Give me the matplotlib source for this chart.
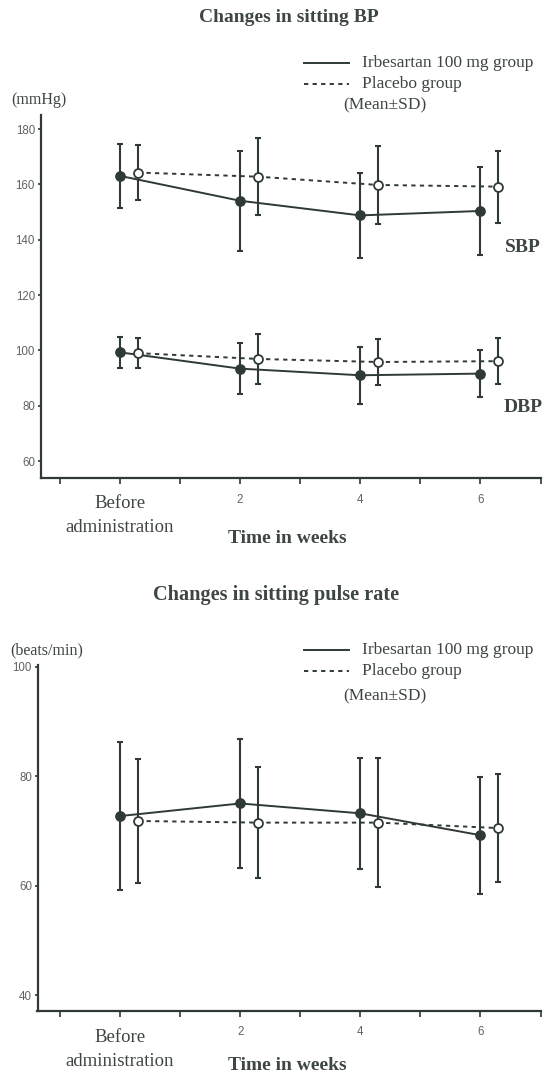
import matplotlib
matplotlib.use("Agg")
import matplotlib.pyplot as plt
import numpy as np

# ---------------- data ----------------
weeks = [0, 2, 4, 6]
placebo_offset = 0.3
x_ticks = [-1, 0, 1, 2, 3, 4, 5, 6, 7]
x_ticklabels = ["", "", "", "2", "", "4", "", "6", ""]

sbp_irb_mean = [163.1, 154.1, 148.8, 150.4]
sbp_irb_sd = [11.5, 18.0, 15.4, 16.0]
sbp_pla_mean = [164.3, 162.8, 159.8, 159.2]
sbp_pla_sd = [9.8, 14.0, 14.0, 13.0]

dbp_irb_mean = [99.3, 93.4, 91.0, 91.6]
dbp_irb_sd = [5.5, 9.2, 10.4, 8.5]
dbp_pla_mean = [99.0, 96.9, 95.8, 96.1]
dbp_pla_sd = [5.5, 9.0, 8.4, 8.4]

pr_irb_mean = [72.7, 75.0, 73.2, 69.2]
pr_irb_sd = [13.5, 11.8, 10.1, 10.7]
pr_pla_mean = [71.8, 71.5, 71.5, 70.5]
pr_pla_sd = [11.4, 10.1, 11.8, 9.9]

bp_yticks = [60, 80, 100, 120, 140, 160, 180]
pr_yticks = [40, 60, 80, 100]

# ---------------- style ----------------
W, H = 545, 1073
LINE = "#2f3a34"
TXT = "#3e4642"
NUM = "#5f6461"
SERIF = ["Liberation Serif", "DejaVu Serif"]
SANS = ["Liberation Sans", "DejaVu Sans"]

fig = plt.figure(figsize=(W / 100, H / 100), dpi=100)
fig.patch.set_facecolor("white")


def fx(px):
    return px / W


def fy(py):
    return 1 - py / H


def series(ax, means, sds, filled, dashed, offset):
    xs = [w + offset for w in weeks]
    ax.errorbar(xs, means, yerr=sds, fmt="none", ecolor=LINE, elinewidth=1.5,
                capsize=2.2, capthick=1.5, zorder=2)
    ax.plot(xs, means, color=LINE, lw=1.4,
            linestyle=(0, (2.2, 2.2)) if dashed else "-", zorder=3)
    ax.plot(xs, means, linestyle="none", marker="o", markersize=6.4,
            markerfacecolor=LINE if filled else "white",
            markeredgecolor=LINE, markeredgewidth=1.3, zorder=4)


def style_axes(ax, yticks, xlim, ylim):
    ax.set_xlim(*xlim)
    ax.set_ylim(*ylim)
    for s in ["top", "right"]:
        ax.spines[s].set_visible(False)
    for s in ["left", "bottom"]:
        ax.spines[s].set_color(LINE)
        ax.spines[s].set_linewidth(1.6)
    ax.set_yticks(yticks)
    ax.set_yticklabels([str(v) for v in yticks], fontfamily=SANS, fontsize=8.3, color=NUM)
    ax.set_xticks(x_ticks)
    ax.set_xticklabels(x_ticklabels, fontfamily=SANS, fontsize=8.3, color=NUM)
    ax.tick_params(axis="y", direction="out", length=2.5, width=1.2, color=LINE, pad=1.5)
    ax.tick_params(axis="x", direction="out", length=4, width=1.2, color=LINE, pad=7)
    ax.patch.set_alpha(0)


def legend_block(y1, y2, y3):
    fig.add_artist(plt.Line2D([fx(304), fx(349)], [fy(y1), fy(y1)], color=LINE, lw=1.4))
    fig.add_artist(plt.Line2D([fx(304), fx(349)], [fy(y2), fy(y2)], color=LINE, lw=1.4,
                              linestyle=(0, (2.2, 2.2))))
    fig.text(fx(362), fy(y1), "Irbesartan 100 mg group", fontfamily=SERIF, fontsize=12.5,
             color=TXT, va="center", ha="left")
    fig.text(fx(362), fy(y2), "Placebo group", fontfamily=SERIF, fontsize=12.5,
             color=TXT, va="center", ha="left")
    fig.text(fx(385), fy(y3), "(Mean\u00b1SD)", fontfamily=SERIF, fontsize=12.5,
             color=TXT, va="center", ha="center")


def xlabels(ax, before_dy, admin_dy, time_dy):
    for txt, dy in [("Before", before_dy), ("administration", admin_dy)]:
        ax.annotate(txt, xy=(0, 0), xycoords=("data", "axes fraction"),
                    xytext=(0, -dy * 0.72), textcoords="offset points",
                    ha="center", va="center", fontfamily=SERIF, fontsize=13.5, color=TXT)
    ax.annotate("Time in weeks", xy=(2.78, 0), xycoords=("data", "axes fraction"),
                xytext=(0, -time_dy * 0.72), textcoords="offset points",
                ha="center", va="center", fontfamily=SERIF, fontsize=14,
                fontweight="bold", color=TXT)


# ---------------- top panel: BP ----------------
ax1 = fig.add_axes([fx(40.5), fy(478.3), fx(540.5) - fx(40.5), fy(115) - fy(478.3)])
series(ax1, sbp_pla_mean, sbp_pla_sd, False, True, placebo_offset)
series(ax1, sbp_irb_mean, sbp_irb_sd, True, False, 0)
series(ax1, dbp_pla_mean, dbp_pla_sd, False, True, placebo_offset)
series(ax1, dbp_irb_mean, dbp_irb_sd, True, False, 0)
style_axes(ax1, bp_yticks, (-1.32, 7.0), (53.75, 185.1))
xlabels(ax1, 25, 49, 60)

fig.text(fx(289), fy(18), "Changes in sitting BP", fontfamily=SERIF, fontsize=14,
         fontweight="bold", color=TXT, ha="center", va="center")
fig.text(fx(11), fy(100), "(mmHg)", fontfamily=SERIF, fontsize=11.5, color=TXT,
         ha="left", va="center")
legend_block(63, 84, 105)
fig.text(fx(523), fy(247), "SBP", fontfamily=SERIF, fontsize=14, fontweight="bold",
         color=TXT, ha="center", va="center")
fig.text(fx(523), fy(407), "DBP", fontfamily=SERIF, fontsize=14, fontweight="bold",
         color=TXT, ha="center", va="center")

# ---------------- bottom panel: pulse rate ----------------
ax2 = fig.add_axes([fx(37.5), fy(1011), fx(540.5) - fx(37.5), fy(665) - fy(1011)])
series(ax2, pr_pla_mean, pr_pla_sd, False, True, placebo_offset)
series(ax2, pr_irb_mean, pr_irb_sd, True, False, 0)
style_axes(ax2, pr_yticks, (-1.373, 7.0), (37.08, 100.3))
xlabels(ax2, 27, 51, 54)

fig.text(fx(276), fy(595), "Changes in sitting pulse rate", fontfamily=SERIF, fontsize=14.6,
         fontweight="bold", color=TXT, ha="center", va="center")
fig.text(fx(10), fy(650), "(beats/min)", fontfamily=SERIF, fontsize=11.5, color=TXT,
         ha="left", va="center")
legend_block(650, 671, 696)

fig.savefig("out.png", dpi=100, facecolor="white")
